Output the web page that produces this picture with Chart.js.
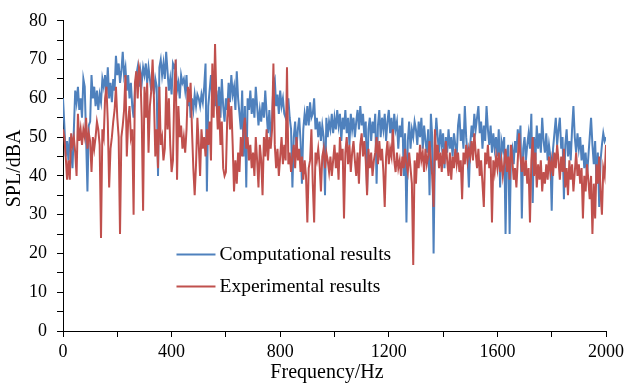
<!DOCTYPE html>
<html>
<head>
<meta charset="utf-8">
<script src="https://cdn.jsdelivr.net/npm/chart.js@4/dist/chart.umd.min.js"></script>
<style>
  html, body { margin: 0; padding: 0; background: #fff; }
  #wrap { width: 628px; height: 384px; }
</style>
</head>
<body>
<div id="wrap"><canvas id="c" width="628" height="384"></canvas></div>
<script>
// Frequency grid: 0–2000 Hz in 5 Hz steps
const freqStepHz = 5;
const freqCount = 401;
const frequencyHz = Array.from({ length: freqCount }, (_, i) => i * freqStepHz);

// Computational SPL, dBA (one row = 100 Hz)
const computedSPL = [
  60,53,45,49,44,50,46,42,52,62,59,63,57,60,55,65,63,50,36,53,   // 0
  54,66,60,63,58,62,57,61,59,65,63,66,61,68,60,64,59,65,62,71,   // 100
  66,69,64,67,72,66,68,62,66,60,64,58,55,62,66,68,63,67,64,68,   // 200
  66,69,64,68,65,62,67,61,65,63,40,68,70,66,69,65,72,67,62,65,   // 300
  61,69,68,69,62,64,60,66,64,65,62,66,58,62,55,60,57,61,58,61,   // 400
  60,58,61,59,63,69,36,58,62,66,60,64,58,62,56,63,55,65,58,54,   // 500
  60,57,64,59,66,61,63,57,67,60,56,52,62,45,58,37,60,57,62,56,   // 600
  60,55,63,58,53,57,54,59,55,62,56,51,57,50,54,64,65,58,61,56,   // 700
  62,58,60,56,55,57,60,55,52,37,50,54,47,52,55,49,38,52,56,53,   // 800
  58,53,59,55,56,60,52,55,50,54,49,53,50,35,55,50,54,52,56,51,   // 900
  55,52,57,53,56,49,55,52,57,51,55,48,56,52,55,50,54,57,52,58,   // 1000
  53,56,50,54,36,52,55,49,54,51,56,38,53,57,50,55,52,56,49,54,   // 1100
  57,51,55,49,56,52,54,47,53,50,55,40,51,28,49,54,47,52,50,54,   // 1200
  52,48,54,50,55,47,53,49,46,52,35,56,50,20,48,55,50,46,52,48,   // 1300
  51,42,50,46,52,47,50,45,51,48,45,53,56,49,52,47,58,50,45,37,   // 1400
  48,53,50,56,52,55,58,51,54,47,53,49,58,52,48,53,46,51,47,50,   // 1500
  45,52,37,49,47,50,25,46,48,25,45,47,43,49,46,52,48,53,29,47,   // 1600
  50,44,48,51,47,56,33,50,44,53,47,51,46,55,49,46,51,44,48,45,   // 1700
  31,47,51,55,48,52,55,47,50,34,48,52,45,49,44,52,58,50,46,51,   // 1800
  47,50,44,48,42,46,40,45,50,55,48,43,49,38,46,32,44,48,51,49,   // 1900
  50                                                             // 2000
];

// Experimental SPL, dBA (one row = 100 Hz)
const measuredSPL = [
  52,50,45,39,44,39,51,48,50,46,40,56,49,52,48,52,50,55,47,51,   // 0
  49,41,50,47,50,54,52,48,24,52,50,60,63,54,37,47,50,54,57,63,   // 100
  55,50,25,50,53,57,66,45,54,58,50,52,30,64,67,60,68,66,55,31,   // 200
  63,55,64,46,58,62,70,60,45,52,42,63,48,50,44,47,63,52,60,48,   // 300
  41,44,62,70,39,58,50,53,47,50,46,52,63,59,64,52,42,35,43,55,   // 400
  48,40,52,47,50,45,52,48,54,44,69,55,74,60,52,58,48,54,42,40,   // 500
  41,55,60,52,58,48,36,44,38,46,41,50,45,52,55,47,50,44,48,42,   // 600
  46,40,50,44,37,48,44,35,50,45,52,44,50,47,52,69,48,42,47,40,   // 700
  45,50,43,48,44,68,43,46,41,45,48,42,50,44,47,41,45,39,44,40,   // 800
  28,42,44,52,38,28,46,44,47,43,36,45,47,42,46,44,41,45,40,44,   // 900
  48,42,46,39,50,44,47,29,46,50,43,48,41,46,49,44,40,46,38,48,   // 1000
  51,45,49,44,35,47,42,46,40,44,46,50,43,49,44,47,41,32,45,49,   // 1100
  43,47,45,52,44,41,46,42,44,40,45,42,47,43,41,46,42,38,17,44,   // 1200
  38,46,42,48,44,46,41,47,43,45,49,44,40,32,52,44,48,42,46,41,   // 1300
  47,43,49,44,40,46,39,45,42,47,43,46,41,44,34,46,43,48,44,47,   // 1400
  45,49,44,51,46,42,47,40,44,38,32,46,43,48,42,45,28,44,41,45,   // 1500
  42,46,41,44,40,43,47,41,45,39,48,44,39,42,37,44,51,45,41,45,   // 1600
  40,44,38,42,28,44,50,40,46,37,43,39,44,36,41,38,43,39,45,41,   // 1700
  44,40,46,42,48,44,39,45,41,47,37,42,35,44,39,43,36,41,46,40,   // 1800
  43,38,42,29,40,36,43,39,34,40,25,38,29,43,38,45,36,30,42,40,   // 1900
  48                                                             // 2000
];

const seriesNames = ['Computational results', 'Experimental results'];
const xTickLabels = [0, 400, 800, 1200, 1600, 2000];
const yTickLabels = [0, 10, 20, 30, 40, 50, 60, 70, 80];

const SERIF = "'Liberation Serif', 'Times New Roman', serif";
const BLUE = '#4F81BD';
const RED = '#C0504D';

const toPoints = ys => frequencyHz.map((f, i) => ({ x: f, y: ys[i] }));

// Legend drawn inside the plot area, below the curves
const insetLegend = {
  id: 'insetLegend',
  afterDraw(chart) {
    const { ctx, chartArea: a } = chart;
    const x0 = a.left + a.width * 0.209;
    const len = 39;
    const rowsY = [a.top + a.height * 0.751, a.top + a.height * 0.854];
    ctx.save();
    ctx.font = '19.5px ' + SERIF;
    ctx.textBaseline = 'middle';
    ctx.textAlign = 'left';
    chart.data.datasets.forEach((ds, i) => {
      const y = Math.round(rowsY[i]) + 0.5;
      ctx.strokeStyle = ds.borderColor;
      ctx.lineWidth = 2;
      ctx.beginPath();
      ctx.moveTo(x0, y);
      ctx.lineTo(x0 + len, y);
      ctx.stroke();
      ctx.fillStyle = '#000';
      ctx.fillText(ds.label, x0 + len + 4, y);
    });
    ctx.restore();
  }
};

new Chart(document.getElementById('c'), {
  type: 'line',
  data: {
    datasets: [
      { label: seriesNames[0], data: toPoints(computedSPL), borderColor: BLUE,
        borderWidth: 2, pointRadius: 0, tension: 0, order: 1 },
      { label: seriesNames[1], data: toPoints(measuredSPL), borderColor: RED,
        borderWidth: 2, pointRadius: 0, tension: 0, order: 0 }
    ]
  },
  options: {
    responsive: false,
    animation: false,
    layout: { padding: { top: 16, right: 20, left: 0, bottom: 0 } },
    plugins: { legend: { display: false }, tooltip: { enabled: false } },
    scales: {
      x: {
        type: 'linear', min: 0, max: 2000,
        ticks: {
          stepSize: 200, autoSkip: false, maxRotation: 0, padding: 4,
          color: '#000', font: { family: SERIF, size: 18 },
          callback: v => xTickLabels.includes(v) ? String(v) : ''
        },
        grid: { drawOnChartArea: false, tickLength: 6, color: '#000' },
        border: { color: '#000', width: 1 },
        // trailing spaces nudge the centred title slightly left
        title: { display: true, text: 'Frequency/Hz\u00a0\u00a0\u00a0', color: '#000',
                 font: { family: SERIF, size: 20 }, padding: { top: 0, bottom: -1 } },
        afterFit: s => { s.height = 53; }
      },
      y: {
        min: 0, max: 80,
        ticks: {
          stepSize: 5, autoSkip: false, padding: 10,
          color: '#000', font: { family: SERIF, size: 18 },
          callback: v => yTickLabels.includes(v) ? String(v) : ''
        },
        grid: { drawOnChartArea: false, tickLength: 6, color: '#000' },
        border: { color: '#000', width: 1 },
        // leading spaces lift the rotated title a little
        title: { display: true, text: '\u00a0\u00a0\u00a0SPL/dBA', color: '#000',
                 font: { family: SERIF, size: 20 }, padding: { top: 3, bottom: 0 } },
        afterFit: s => { s.width = 63; }
      }
    }
  },
  plugins: [insetLegend]
});
</script>
</body>
</html>
